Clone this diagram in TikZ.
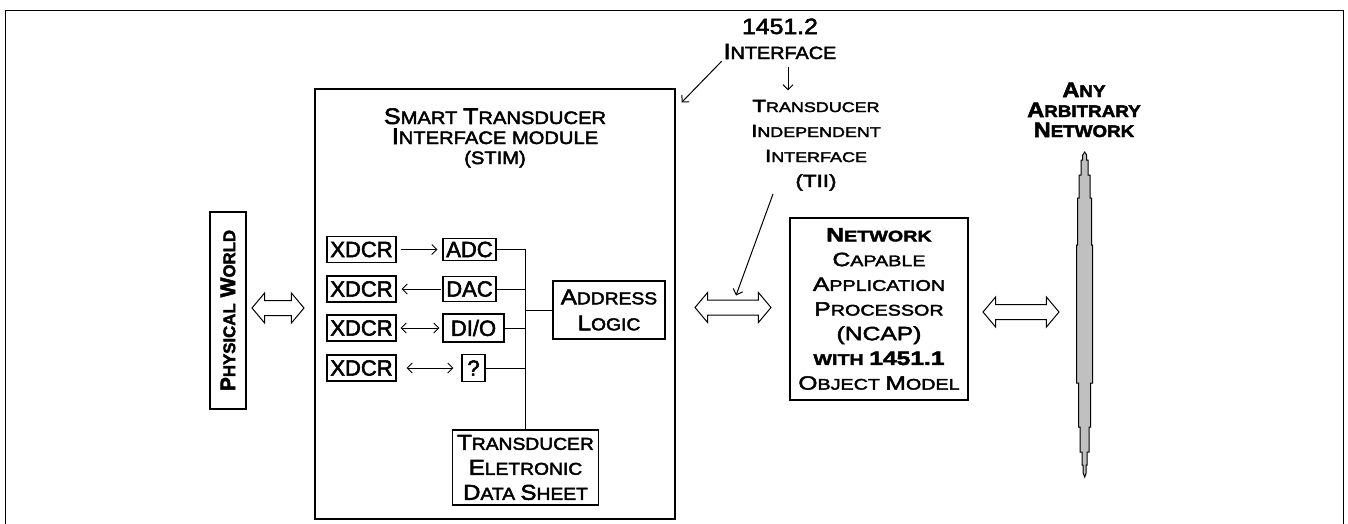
\documentclass[tikz,border=0pt]{standalone}
\usepackage{fontspec}
\setmainfont{Liberation Sans}[FakeBold=2.5]
\newfontfamily\fw{Liberation Sans}[FakeStretch=1.12,FakeBold=2.5]
\newfontfamily\fww{Liberation Sans}[FakeStretch=1.28,FakeBold=2.5]
\usepackage{graphicx}
\usetikzlibrary{arrows.meta,shapes.arrows,calc}
\newcommand\SC[2]{\scalebox{1.25}{#1}#2}
\definecolor{spin}{RGB}{192,192,192}
\begin{document}
\begin{tikzpicture}[x=1pt,y=-1pt, line width=1.1pt,
  >={Straight Barb[length=5pt,width=10pt,line width=1pt]},
  box/.style={draw, inner sep=0pt, align=center},
  lbl/.style={inner sep=0pt, align=center},
  xd/.style={box, minimum width=69pt, minimum height=26pt, font=\fontsize{22pt}{24pt}\selectfont},
  conv/.style={box, font=\fontsize{22pt}{24pt}\selectfont},
  hollow/.style={double arrow, draw, line width=1pt, inner xsep=0pt, inner ysep=7pt,
    double arrow head extend=7.5pt, double arrow tip angle=100},
  conn/.style={line width=1pt}]
\useasboundingbox (0,0) rectangle (1348,523);
\begin{scope}
\clip (0,0) rectangle (1348,523);
\draw (5.5,10.5) rectangle (1343.5,560);
\end{scope}

% STIM
\node[box, minimum width=360pt, minimum height=430pt] (stim) at (495,304) {};
\node[lbl, anchor=base, font={\fw\fontsize{18pt}{20pt}\selectfont}] (stimt) at (495,164)
  {\SC{S}{MART} \SC{T}{RANSDUCER}\\\SC{I}{NTERFACE} MODULE\\(STIM)};

\node[xd] (x1) at (361.5,249.5) {XDCR};
\node[xd] (x2) at (361.5,289) {XDCR};
\node[xd] (x3) at (361.5,328) {XDCR};
\node[xd] (x4) at (361.5,368) {XDCR};
\node[conv, minimum width=53pt, minimum height=22pt] (adc) at (469.5,249.5) {ADC};
\node[conv, minimum width=53pt, minimum height=25pt] (dac) at (469.5,289) {DAC};
\node[conv, minimum width=61pt, minimum height=28pt] (dio) at (473.5,328) {DI/O};
\node[conv, minimum width=23pt, minimum height=27pt] (q) at (473.5,368) {?};

\draw[conn, ->, shorten <=4pt, shorten >=5pt] (x1) -- (adc);
\draw[conn, ->, shorten <=1pt, shorten >=5pt] (dac) -- (x2);
\draw[conn, <->, shorten <=4pt, shorten >=3pt] (x3) -- (dio);
\draw[conn, <->, shorten <=10pt, shorten >=8pt] (x4) -- (q);

\node[box, minimum width=146pt, minimum height=75pt, font={\fw\fontsize{17.2pt}{25pt}\selectfont}] (teds) at (525.5,467.5)
  {\SC{T}{RANSDUCER}\\\SC{E}{LETRONIC}\\\SC{D}{ATA} \SC{S}{HEET}};
\node[box, minimum width=112pt, minimum height=58pt, font={\fw\fontsize{17.2pt}{26pt}\selectfont}] (addr) at (609,310)
  {\SC{A}{DDRESS}\\\SC{L}{OGIC}};

\draw[conn] (adc.east) -| (teds.north);
\draw[conn] (dac.east) -- (dac.east -| teds.north);
\draw[conn] (dio.east) -- (dio.east -| teds.north);
\draw[conn] (q.east) -- (q.east -| teds.north);
\draw[conn] (addr.west) -- (addr.west -| teds.north);

% Physical world
\node[box, rotate=90, minimum width=197pt, minimum height=36pt, font={\bfseries\fontsize{16.8pt}{18pt}\selectfont}] (pw) at (228,310.5)
  {\SC{P}{HYSICAL}\hspace{6pt}\SC{W}{ORLD}};

% hollow arrows
\node[hollow, minimum height=52pt] (pwa) at (278,308) {};
\node[hollow, minimum height=76pt] (tiia) at (733,307.5) {};
\node[hollow, minimum height=76pt] (neta) at (1021,312) {};

% interface labels
\node[lbl, anchor=base, font={\fw\fontsize{17.7pt}{25pt}\selectfont}] (if1) at (780,59)
  {\scalebox{1.25}{1451.2}\\\SC{I}{NTERFACE}};
\node[lbl, anchor=base, font={\fww\fontsize{14pt}{25pt}\selectfont}] (tii) at (816,187)
  {\SC{T}{RANSDUCER}\\\SC{I}{NDEPENDENT}\\\SC{I}{NTERFACE}\\\scalebox{1.25}{(TII)}};
\draw[conn, ->, shorten <=7pt, shorten >=9pt] ([xshift=8pt]if1.south) -- ([xshift=8pt]if1.south |- tii.north);
\draw[conn, ->, shorten <=2pt] (if1.south west) -- ($(stim.north east)+(6,14)$);
\coordinate (tiiL) at (773,194);
\draw[conn, ->] (tiiL) -- ($(tiia.center)+(3,-12)$);

% NCAP
\node[box, minimum width=178pt, minimum height=182pt, font={\fww\fontsize{15.4pt}{24.7pt}\selectfont}] (ncap) at (879,309)
  {{\bfseries\SC{N}{ETWORK}}\\\SC{C}{APABLE}\\\SC{A}{PPLICATION}\\\SC{P}{ROCESSOR}\\\scalebox{1.25}{(NCAP)}\\
   {\bfseries WITH \scalebox{1.25}{1451.1}}\\\SC{O}{BJECT} \SC{M}{ODEL}};

% network
\node[lbl, anchor=base, font={\fw\bfseries\fontsize{16.8pt}{20pt}\selectfont}] (net) at (1084,137)
  {\SC{A}{NY}\\\SC{A}{RBITRARY}\\\SC{N}{ETWORK}};
\begin{scope}[shift={(1084.7,0)}]
\draw[line width=1pt, fill=spin] (0,152) -- (2,155) -- (2,160) -- (3.5,160) -- (3.5,175) -- (5.5,175) -- (5.5,198)
  -- (7,198) -- (7,245) -- (8,245) -- (8,383) -- (6,383) -- (6,427) -- (4.5,427) -- (4.5,452) -- (2.5,452)
  -- (2.5,465) -- (1.5,465) -- (1.5,473) -- (0,477) -- (-1.5,473) -- (-1.5,465) -- (-2.5,465) -- (-2.5,452)
  -- (-4.5,452) -- (-4.5,427) -- (-6,427) -- (-6,383) -- (-8,383) -- (-8,245) -- (-7,245) -- (-7,198)
  -- (-5.5,198) -- (-5.5,175) -- (-3.5,175) -- (-3.5,160) -- (-2,160) -- (-2,155) -- cycle;
\end{scope}
\end{tikzpicture}
\end{document}
